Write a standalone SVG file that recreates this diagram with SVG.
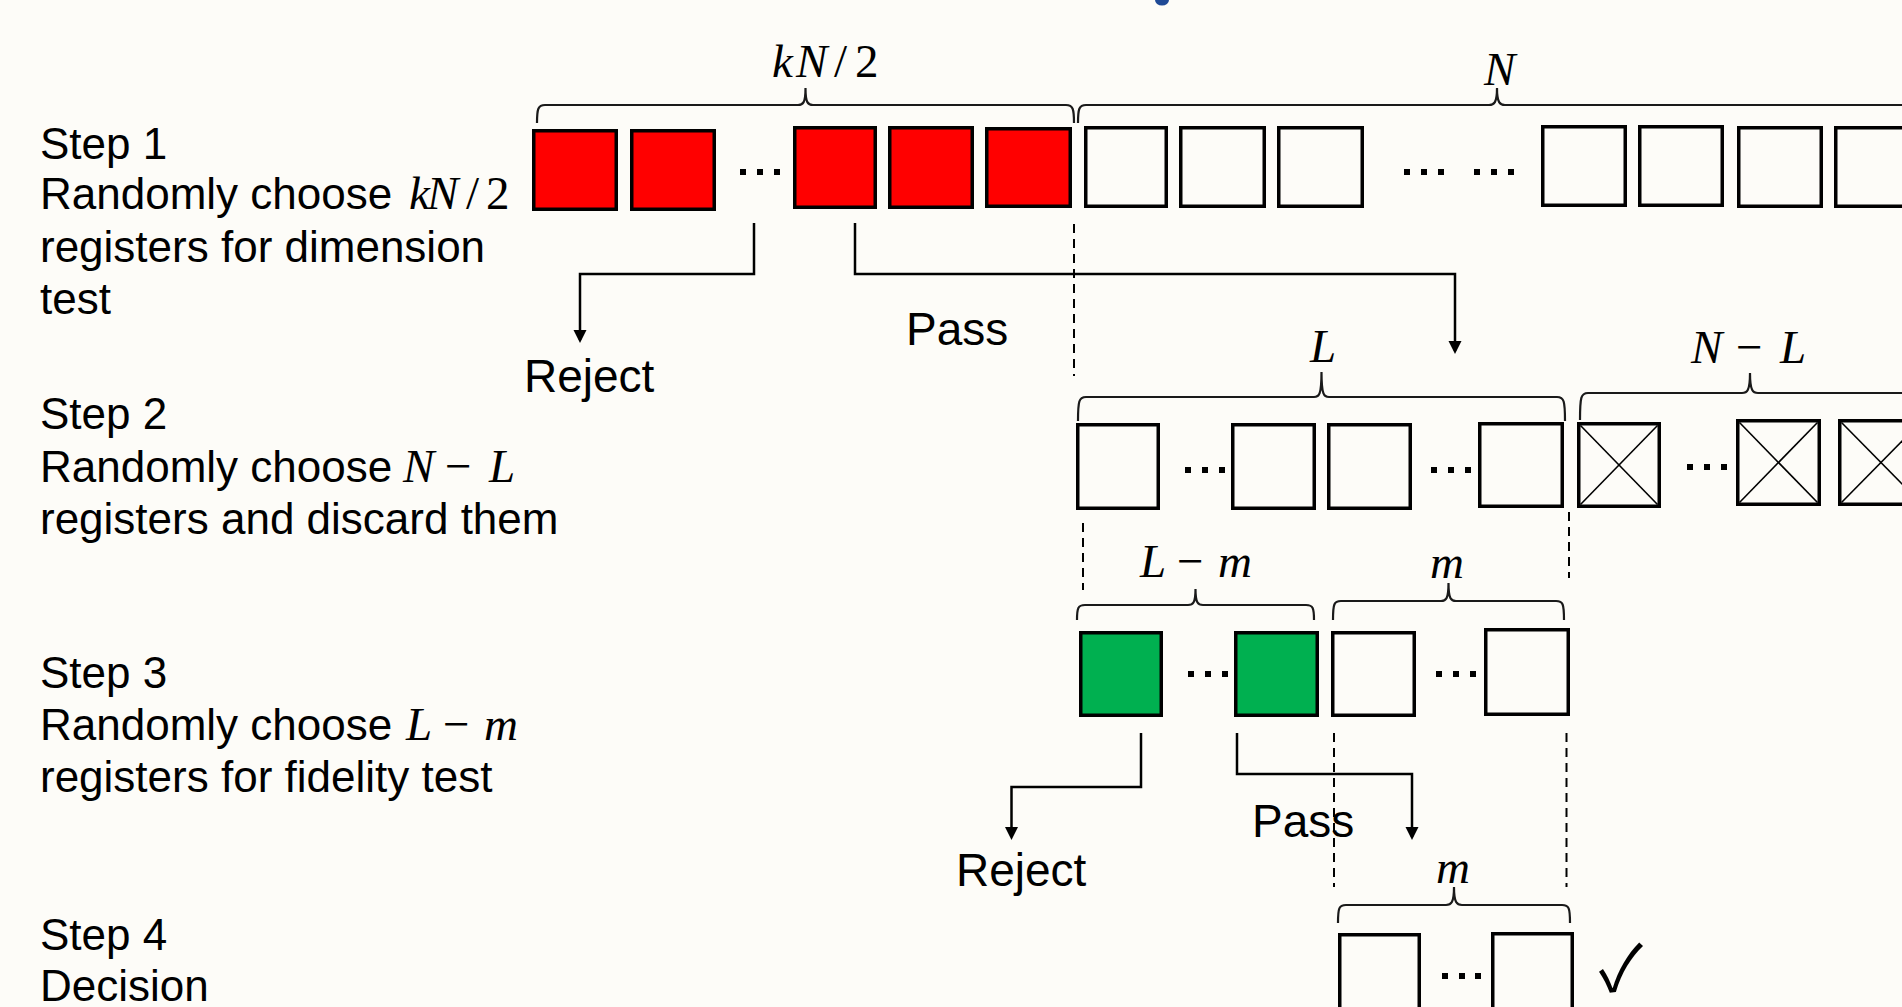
<svg xmlns="http://www.w3.org/2000/svg" width="1902" height="1007" viewBox="0 0 1902 1007">
<style>
.box{stroke:#000;stroke-width:3.5}
.red{fill:#FF0000}
.green{fill:#00B050}
.white{fill:#FDFCF8}
.xl{stroke:#000;stroke-width:1.6}
.brace{fill:none;stroke:#1a1a1a;stroke-width:2.2}
.dash{fill:none;stroke:#000;stroke-width:2;stroke-dasharray:9 6}
.conn{fill:none;stroke:#000;stroke-width:2.5}
.dot{fill:#000}
.t{font-family:"Liberation Sans",Arial,sans-serif;font-size:44px;fill:#000}
.lbl{font-family:"Liberation Sans",Arial,sans-serif;font-size:46px;fill:#000}
.mi{font-family:"Liberation Serif","Times New Roman",serif;font-style:italic;font-size:47px}
.mu{font-family:"Liberation Serif","Times New Roman",serif;font-style:normal;font-size:47px}
.ml{font-family:"Liberation Serif","Times New Roman",serif;font-size:47px;fill:#000}
</style>
<defs>
<marker id="arr" markerUnits="userSpaceOnUse" markerWidth="14" markerHeight="14" refX="10" refY="6.5" orient="auto">
<path d="M0,0 L13,6.5 L0,13 z" fill="#000"/>
</marker>
</defs>
<rect x="0" y="0" width="1902" height="1007" fill="#FDFCF8"/>
<ellipse cx="1162" cy="0" rx="7" ry="5.5" fill="#1F4A96"/>

<g id="step-labels">
<text class="t" x="40" y="159">Step 1</text>
<text class="t" x="40" y="209">Randomly choose <tspan class="mi" x="409">k</tspan><tspan class="mi" x="427">N</tspan><tspan class="mu" x="466">/</tspan><tspan class="mu" x="486">2</tspan></text>
<text class="t" x="40" y="262">registers for dimension</text>
<text class="t" x="40" y="314">test</text>
<text class="t" x="40" y="429">Step 2</text>
<text class="t" x="40" y="482">Randomly choose <tspan class="mi" x="403">N</tspan><tspan class="mu" x="445">−</tspan><tspan class="mi" x="489">L</tspan></text>
<text class="t" x="40" y="534">registers and discard them</text>
<text class="t" x="40" y="688">Step 3</text>
<text class="t" x="40" y="740">Randomly choose <tspan class="mi" x="406">L</tspan><tspan class="mu" x="443">−</tspan><tspan class="mi" x="484">m</tspan></text>
<text class="t" x="40" y="792">registers for fidelity test</text>
<text class="t" x="40" y="950">Step 4</text>
<text class="t" x="40" y="1001">Decision</text>
</g>

<g id="row1-dimension-test">
<rect class="box red" x="533.75" y="130.75" width="82.5" height="78.5"/>
<rect class="box red" x="631.75" y="130.75" width="82.5" height="78.5"/>
<rect class="dot" x="740" y="169" width="6" height="6"/>
<rect class="dot" x="757" y="169" width="6" height="6"/>
<rect class="dot" x="774" y="169" width="6" height="6"/>
<rect class="box red" x="794.75" y="127.75" width="80.5" height="79.5"/>
<rect class="box red" x="889.75" y="127.75" width="82.5" height="79.5"/>
<rect class="box red" x="986.75" y="128.75" width="83.5" height="77.5"/>
</g>

<g id="row1-remaining">
<rect class="box white" x="1085.75" y="127.75" width="80.5" height="78.5"/>
<rect class="box white" x="1180.75" y="127.75" width="83.5" height="78.5"/>
<rect class="box white" x="1278.75" y="127.75" width="83.5" height="78.5"/>
<rect class="dot" x="1404" y="169" width="6" height="6"/>
<rect class="dot" x="1421" y="169" width="6" height="6"/>
<rect class="dot" x="1438" y="169" width="6" height="6"/>
<rect class="dot" x="1474" y="169" width="6" height="6"/>
<rect class="dot" x="1491" y="169" width="6" height="6"/>
<rect class="dot" x="1508" y="169" width="6" height="6"/>
<rect class="box white" x="1542.75" y="126.75" width="82.5" height="78.5"/>
<rect class="box white" x="1639.75" y="126.75" width="82.5" height="78.5"/>
<rect class="box white" x="1738.75" y="127.75" width="82.5" height="78.5"/>
<rect class="box white" x="1835.75" y="127.75" width="82.5" height="78.5"/>
</g>

<g id="row1-braces">
<path class="brace" d="M537,123 C537,109 538,105 545,105 H798 C803,105 805.5,103 805.5,88 C805.5,103 808,105 813,105 H1066 C1073,105 1074,109 1074,123"/>
<text class="ml" y="77"><tspan class="mi" x="772">k</tspan><tspan class="mi" x="796">N</tspan><tspan class="mu" x="834">/</tspan><tspan class="mu" x="855">2</tspan></text>
<path class="brace" d="M1078,123 C1078,109 1079,105 1086,105 H1489 C1494,105 1497,103 1497,88 C1497,103 1500,105 1505,105 H1908 C1915,105 1916,109 1916,123"/>
<text class="ml mi" x="1484" y="85">N</text>
</g>

<g id="row2-kept">
<path class="brace" d="M1078,421 C1078,401 1079,397 1086,397 H1314 C1319,397 1321.5,395 1321.5,372 C1321.5,395 1324,397 1329,397 H1557 C1564,397 1565,401 1565,421"/>
<text class="ml mi" x="1310" y="362">L</text>
<rect class="box white" x="1077.75" y="424.75" width="80.5" height="83.5"/>
<rect class="dot" x="1185" y="467" width="6" height="6"/>
<rect class="dot" x="1202" y="467" width="6" height="6"/>
<rect class="dot" x="1219" y="467" width="6" height="6"/>
<rect class="box white" x="1232.75" y="424.75" width="81.5" height="83.5"/>
<rect class="box white" x="1328.75" y="424.75" width="81.5" height="83.5"/>
<rect class="dot" x="1431" y="467" width="6" height="6"/>
<rect class="dot" x="1448" y="467" width="6" height="6"/>
<rect class="dot" x="1465" y="467" width="6" height="6"/>
<rect class="box white" x="1479.75" y="423.75" width="82.5" height="82.5"/>
</g>

<g id="row2-discarded">
<path class="brace" d="M1580,420 C1580,397 1581,393 1588,393 H1742 C1747,393 1750,391 1750,373 C1750,391 1753,393 1758,393 H1912 C1919,393 1920,397 1920,420"/>
<text class="ml" y="363"><tspan class="mi" x="1691">N</tspan><tspan class="mu" x="1736">−</tspan><tspan class="mi" x="1780">L</tspan></text>
<rect class="box white" x="1578.75" y="423.75" width="80.5" height="82.5"/>
<line class="xl" x1="1580.5" y1="425.5" x2="1657.5" y2="504.5"/>
<line class="xl" x1="1657.5" y1="425.5" x2="1580.5" y2="504.5"/>
<rect class="dot" x="1687" y="464" width="6" height="6"/>
<rect class="dot" x="1704" y="464" width="6" height="6"/>
<rect class="dot" x="1721" y="464" width="6" height="6"/>
<rect class="box white" x="1737.75" y="420.75" width="81.5" height="83.5"/>
<line class="xl" x1="1739.5" y1="422.5" x2="1817.5" y2="502.5"/>
<line class="xl" x1="1817.5" y1="422.5" x2="1739.5" y2="502.5"/>
<rect class="box white" x="1839.75" y="420.75" width="82.5" height="83.5"/>
<line class="xl" x1="1841.5" y1="422.5" x2="1920.5" y2="502.5"/>
<line class="xl" x1="1920.5" y1="422.5" x2="1841.5" y2="502.5"/>
</g>

<g id="row3-fidelity-test">
<path class="brace" d="M1077,620 C1077,608 1078,605 1085,605 H1188 C1193,605 1195.5,603 1195.5,589 C1195.5,603 1198,605 1203,605 H1306 C1313,605 1314,608 1314,620"/>
<text class="ml" y="577"><tspan class="mi" x="1140">L</tspan><tspan class="mu" x="1177">−</tspan><tspan class="mi" x="1218">m</tspan></text>
<rect class="box green" x="1080.75" y="632.75" width="80.5" height="82.5"/>
<rect class="dot" x="1188" y="671" width="6" height="6"/>
<rect class="dot" x="1205" y="671" width="6" height="6"/>
<rect class="dot" x="1222" y="671" width="6" height="6"/>
<rect class="box green" x="1235.75" y="632.75" width="81.5" height="82.5"/>
</g>

<g id="row3-remaining">
<path class="brace" d="M1333,620 C1333,604 1334,601 1341,601 H1441 C1446,601 1448.5,599 1448.5,583 C1448.5,599 1451,601 1456,601 H1556 C1563,601 1564,604 1564,620"/>
<text class="ml mi" x="1430" y="578">m</text>
<rect class="box white" x="1332.75" y="632.75" width="81.5" height="82.5"/>
<rect class="dot" x="1436" y="671" width="6" height="6"/>
<rect class="dot" x="1453" y="671" width="6" height="6"/>
<rect class="dot" x="1470" y="671" width="6" height="6"/>
<rect class="box white" x="1485.75" y="629.75" width="82.5" height="84.5"/>
</g>

<g id="row4-decision">
<path class="brace" d="M1338,923 C1338,908 1339,905 1346,905 H1446 C1451,905 1454,903 1454,887 C1454,903 1457,905 1462,905 H1562 C1569,905 1570,908 1570,923"/>
<text class="ml mi" x="1436" y="883">m</text>
<rect class="box white" x="1339.75" y="934.75" width="79.5" height="82.5"/>
<rect class="dot" x="1442" y="973" width="6" height="6"/>
<rect class="dot" x="1459" y="973" width="6" height="6"/>
<rect class="dot" x="1475" y="973" width="6" height="6"/>
<rect class="box white" x="1492.75" y="933.75" width="79.5" height="82.5"/>
<text x="1599" y="991" font-family="'Noto Sans CJK SC', 'DejaVu Sans', sans-serif" font-size="64" fill="#000">✓</text>
</g>

<g id="connectors">
<line class="dash" x1="1074" y1="224" x2="1074" y2="376"/>
<line class="dash" x1="1083" y1="523" x2="1083" y2="590"/>
<line class="dash" x1="1569" y1="512" x2="1569" y2="578"/>
<line class="dash" x1="1334" y1="733" x2="1334" y2="887"/>
<line class="dash" x1="1566.5" y1="733" x2="1566.5" y2="887"/>
<path class="conn" d="M754,223 V274 H580 V340" marker-end="url(#arr)"/>
<path class="conn" d="M855,223 V274 H1455 V351" marker-end="url(#arr)"/>
<path class="conn" d="M1141,733 V787 H1011.5 V837" marker-end="url(#arr)"/>
<path class="conn" d="M1237,733 V774 H1412 V837" marker-end="url(#arr)"/>
<text class="lbl" x="524" y="392">Reject</text>
<text class="lbl" x="906" y="345">Pass</text>
<text class="lbl" x="956" y="886">Reject</text>
<text class="lbl" x="1252" y="837">Pass</text>
</g>
</svg>
